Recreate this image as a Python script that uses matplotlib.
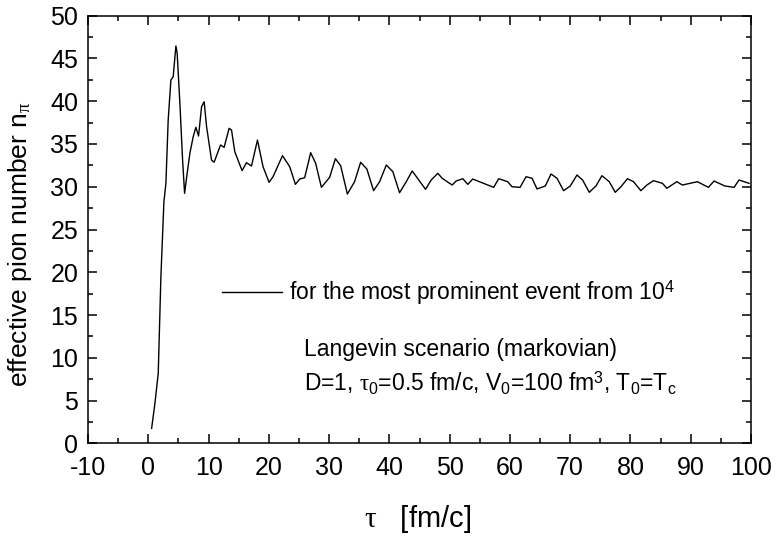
import matplotlib
matplotlib.use('Agg')
import matplotlib.pyplot as plt
from matplotlib.ticker import MultipleLocator

plt.rcParams['font.family'] = ['Liberation Sans', 'DejaVu Sans']
plt.rcParams['mathtext.fontset'] = 'custom'
plt.rcParams['mathtext.rm'] = 'Liberation Sans'
plt.rcParams['mathtext.it'] = 'Liberation Serif'
plt.rcParams['axes.unicode_minus'] = False

# tau [fm/c] and effective pion number
tau = [0.55, 1.10, 1.65, 2.09, 2.59, 2.92, 3.30, 3.75, 4.13, 4.58, 4.79, 5.24,
       5.69, 6.02, 6.45, 6.90, 7.45, 7.89, 8.34, 8.84, 9.27, 9.67, 10.49, 10.92,
       11.98, 12.58, 13.41, 13.81, 14.35, 15.56, 16.29, 17.12, 18.11, 19.04,
       20.04, 20.70, 22.26, 23.47, 24.41, 25.12, 25.95, 26.94, 27.77, 28.72,
       30.09, 31.04, 31.92, 33.03, 34.23, 35.23, 36.27, 37.38, 38.38, 39.49,
       40.58, 41.69, 42.80, 43.79, 44.56, 46.00, 46.94, 48.04, 48.76, 50.42,
       51.08, 52.18, 53.01, 53.83, 56.05, 57.31, 58.14, 59.63, 60.36, 61.69,
       62.68, 63.67, 64.50, 65.88, 66.82, 67.82, 68.91, 70.02, 71.13, 72.06,
       73.17, 74.28, 75.27, 76.48, 77.48, 78.42, 79.51, 80.51, 81.73, 82.73,
       83.82, 85.31, 86.04, 87.70, 88.62, 91.11, 92.93, 93.88, 95.65, 97.19,
       98.02, 99.68]
n_pi = [1.75, 4.68, 8.19, 19.48, 28.25, 30.40, 37.80, 42.48, 42.87, 46.46, 45.60,
        39.76, 33.13, 29.23, 31.57, 33.91, 35.85, 36.95, 35.93, 39.36, 39.94,
        37.02, 33.13, 32.86, 34.88, 34.61, 36.83, 36.63, 34.10, 31.88, 32.81,
        32.42, 35.46, 32.34, 30.52, 31.17, 33.63, 32.34, 30.28, 30.90, 31.06,
        33.98, 32.74, 29.93, 31.10, 33.28, 32.46, 29.15, 30.59, 32.86, 32.07,
        29.54, 30.59, 32.54, 31.76, 29.30, 30.59, 31.84, 31.10, 29.70, 30.79,
        31.57, 30.99, 30.20, 30.67, 30.94, 30.28, 30.90, 30.28, 29.93, 30.94,
        30.59, 30.00, 29.93, 31.17, 30.99, 29.74, 30.09, 31.49, 30.99, 29.54,
        30.09, 31.37, 30.79, 29.35, 30.09, 31.29, 30.59, 29.35, 30.00, 30.94,
        30.59, 29.54, 30.20, 30.71, 30.40, 29.82, 30.59, 30.20, 30.59, 29.93,
        30.67, 30.09, 29.93, 30.79, 30.40]

fig = plt.figure(figsize=(7.77, 5.39), dpi=100)
ax = fig.add_axes([0.1133, 0.1775, 0.8532, 0.7934])

ax.plot(tau, n_pi, color='black', lw=1.0,
        label='for the most prominent event from 10$^4$')

ax.set_xlim(-10, 100)
ax.set_ylim(0, 50)
ax.xaxis.set_major_locator(MultipleLocator(10))
ax.xaxis.set_minor_locator(MultipleLocator(5))
ax.yaxis.set_major_locator(MultipleLocator(5))
ax.yaxis.set_minor_locator(MultipleLocator(2.5))
ax.tick_params(which='both', direction='in', top=True, right=True,
               width=1.1, labelsize=18)
ax.tick_params(which='major', length=6.5)
ax.tick_params(which='minor', length=3.6)
ax.tick_params(axis='x', which='major', pad=9)
ax.tick_params(axis='y', which='major', pad=7)
for s in ax.spines.values():
    s.set_linewidth(1.1)

ax.set_xlabel(r'$\tau$   [fm/c]', fontsize=21)
ax.xaxis.set_label_coords(0.497, -0.14)
ax.set_ylabel(r'effective pion number n$_\pi$', fontsize=19)
ax.yaxis.set_label_coords(-0.081, 0.466)

ax.legend(loc='center left', bbox_to_anchor=(0.202, 0.352), frameon=False,
          fontsize=16.5, handlelength=2.6, handletextpad=0.33,
          borderpad=0, borderaxespad=0)

ax.text(0.3258, 0.204, 'Langevin scenario (markovian)', transform=ax.transAxes,
        fontsize=16.5, va='baseline', ha='left')
ax.text(0.3258, 0.1207,
        r'D=1, $\tau_0$=0.5 fm/c, V$_0$=100 fm$^3$, T$_0$=T$_\mathrm{c}$',
        transform=ax.transAxes, fontsize=16.5, va='baseline', ha='left')

fig.savefig('out.png', dpi=100)
